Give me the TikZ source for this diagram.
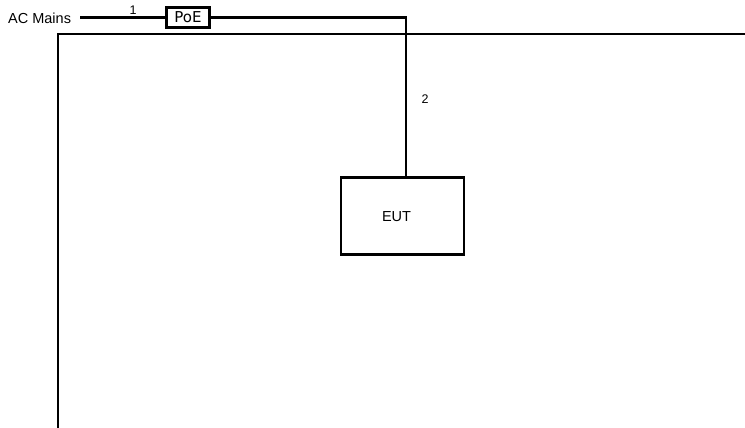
\documentclass[tikz,border=0pt]{standalone}
\usepackage{fontspec}
\setmainfont{Liberation Sans}
\newfontfamily\poefont{DejaVu Sans}
\begin{document}
\begin{tikzpicture}[x=1pt,y=-1pt,
  wire/.style={line width=2.6pt,line cap=rect},
  boxed/.style={draw,line width=2.6pt,inner sep=0pt},
  lbl/.style={font=\fontsize{14.5}{16}\selectfont,inner sep=0pt},
  num/.style={font=\fontsize{12.5}{14}\selectfont,inner sep=0pt}]
\useasboundingbox (0,0) rectangle (745,428);
% labels and boxes
\node[lbl,anchor=west] (ac) at (8,18) {AC Mains};
\node[boxed,minimum width=43pt,minimum height=20pt,font=\poefont\fontsize{15}{17}\selectfont] (poe) at (188,17.5) {PoE};
\node[boxed,minimum width=123pt,minimum height=77pt,
      label={[lbl,xshift=-6pt,yshift=-1pt]center:EUT}] (eut) at (402.5,216) {};
\coordinate (acend) at (81,17.5);
\coordinate (bend) at (406,17.5);
\coordinate (gl) at (58,428);
\coordinate (gc) at (58,34);
\coordinate (gr) at (745,34);
% cable 1: mains to PoE injector
\draw[wire] (acend) -- (poe.west);
\node[num] (n1) at (133,10) {1};
% cable 2: PoE injector to EUT
\draw[wire] (poe.east) -- (bend) -- (eut.north -| bend);
\node[num] (n2) at (425,99) {2};
% ground plane outline
\draw[wire,line cap=butt] (gl) -- (gc) -- (gr);
\end{tikzpicture}
\end{document}
